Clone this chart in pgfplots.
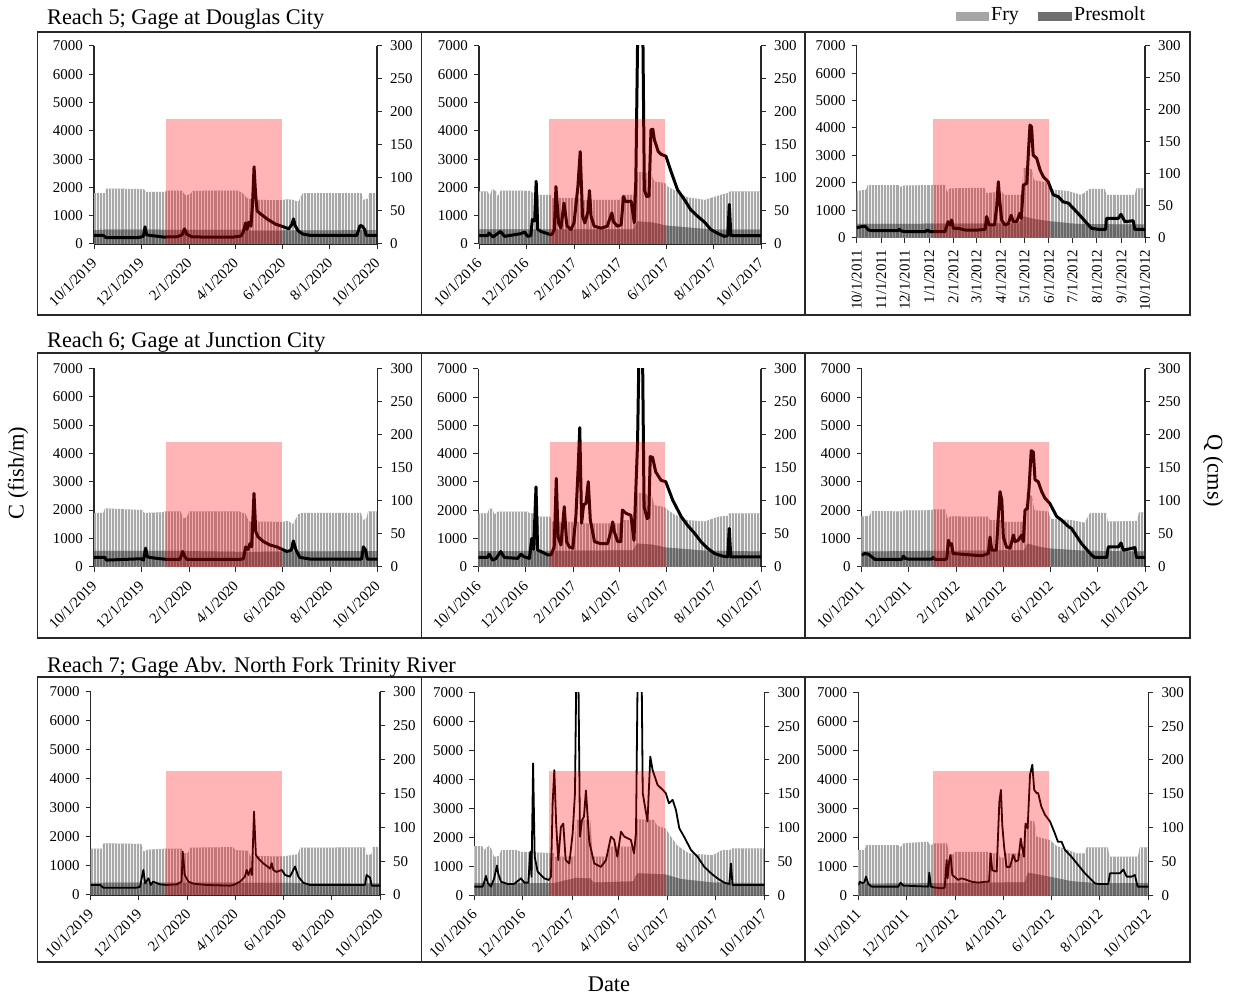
\documentclass[border=0pt]{standalone}
\usepackage{fontspec}
\setmainfont{Liberation Serif}
\usepackage{pgfplots}
\usepackage{pgfplotstable}
\pgfplotsset{compat=1.18}
\usetikzlibrary{patterns.meta}

\definecolor{fryc}{RGB}{168,168,168}
\definecolor{frygap}{RGB}{242,242,242}
\definecolor{presc}{RGB}{104,104,104}
\definecolor{presgap}{RGB}{150,150,150}
\definecolor{fryleg}{RGB}{166,166,166}
\definecolor{presleg}{RGB}{110,110,110}
\definecolor{axc}{RGB}{40,40,40}

\newcommand\tickfont{\fontsize{15}{18}\selectfont}

%% ---------- Reach 5, 2019-2020 ----------
\pgfplotstableread{
x y
0 1800
14 1800
16 1960
50 1950
65 1930
67 1840
92 1840
94 1890
114 1880
118 1720
124 1750
128 1880
186 1890
192 1800
198 1620
206 1560
242 1550
250 1580
258 1560
264 1480
270 1800
346 1800
348 1560
354 1600
356 1800
366 1800
}\PAfry
\pgfplotstableread{
x y
0 490
20 510
120 500
190 500
205 470
260 480
366 490
}\PApres
\pgfplotstableread{
x y
0 13
12 13
16 9.5
56 9.5
62 11
64 12
66 26
68 14
72 13
80 12
90 10.5
108 11
114 14
117 23
120 15
126 11
140 10.5
180 10.5
190 12
193 18
196 32
198 22
200 33
203 27
205 60
207 117
209 75
211 50
215 46
225 37
235 30
245 26
252 23
256 30
258 38
260 28
264 20
270 15
280 13
340 13
344 28
347 27
350 22
352 13
366 13
}\PAq

%% ---------- Reach 5, 2016-2017 ----------
\pgfplotstableread{
x y
0 1860
11 1860
14 1700
17 1960
22 1860
24 1680
28 1890
66 1880
70 1800
74 1740
92 1740
95 1620
128 1620
136 1560
182 1560
186 1740
200 1740
204 2550
222 2500
227 2210
241 2150
244 2030
253 1900
270 1650
292 1560
313 1740
322 1800
325 1860
365 1860
}\PBfry
\pgfplotstableread{
x y
0 520
200 520
205 800
225 760
242 650
280 560
300 510
365 510
}\PBpres
\pgfplotstableread{
x y
0 12.6
11 12.6
13 16.6
18 10.6
22 14
28 19
33 11.6
54 15.6
59 18
63 11.6
67 12.6
69 37
72 35
74 95
76 22
80 19
89 15.6
93 14
95 15.6
97.5 22
99.6 87
103 32
106 24
110 62
114 27
119 22
123 32
128 87
131 140
134 42
137 32
141 49
143 81
145 42
149 27
158 24
166 27
172 47
174 34
179 27
184 29
187 72
190 64
197 65
201 32
203 97
205.5 330
212 330
214 82
217 72
220 72
222.6 173
225 174
227 158
232 140
235.5 136
242 133
248.5 110
257 82
266 67
274 52
283 42
292 33
300 22
309 16
317.5 11.6
322 12.6
324 60
326 12.6
365 12.6
}\PBq

%% ---------- Reach 5, 2011-2012 ----------
\pgfplotstableread{
x y
0 1700
12 1750
14 1920
53 1920
55 1830
58 1900
112 1930
115 1650
118 1800
162 1820
165 1620
172 1650
185 1650
187 1560
209 1560
212 2550
222 2500
225 2100
243 2000
246 1760
268 1700
285 1560
296 1780
315 1780
317 1560
353 1560
355 1800
366 1800
}\PCfry
\pgfplotstableread{
x y
0 500
205 520
212 780
225 680
245 600
280 500
366 480
}\PCpres
\pgfplotstableread{
x y
0 15.6
6 17.2
10.6 18
15 12
19 11
53 11
54 13
57 10.4
61 9.4
87 9.4
90 12
93 9.4
112 9.4
114 17
116 25
118.5 20
120.6 27.6
122.7 14.6
129 14.6
137.5 12
154 12
163 13
165 33
168 20
175 20
177.7 48
179.8 87.5
181.5 59
184 27.6
188 20
192.5 22
196 35
199 25
203 25
207 38
209 30
211.5 82
216 85
218 134
220 176
222 173
224 129
228.5 124
232.7 106
237 95
243 87.5
249.6 67
256 64
262 56
268.7 54
281 38
298 14.6
307 13
316 13
317 30
332 30
335.5 36.5
340.6 25
351 26.5
353 13
366 13
}\PCq

%% ---------- Reach 6, 2019-2020 ----------
\pgfplotstableread{
x y
0 1900
12 1900
14 2060
62 2000
65 1900
88 1920
92 1950
112 1950
115 1700
120 1750
123 1950
188 1950
196 1850
200 1600
244 1580
250 1620
257 1500
264 1850
268 1900
345 1900
347 1640
352 1700
354 1950
366 1950
}\PDfry
\pgfplotstableread{
x y
0 560
100 560
200 520
250 540
366 550
}\PDpres
\pgfplotstableread{
x y
0 14
14 14
16 10
61 12
64 10
66.7 28
69 15
72 14
81 12.6
94 11
111 11
114.5 23
117.5 15
120 11
188 11
193 12
196 30
199 26
201.5 35
203.7 30
206.7 111
209 53
212 45
219 38
227 33
236 30
243.7 26
249 23
255 25
257.5 39
261 25
266 14
279 11.6
345.8 11.6
348 30
351 25
353 11.6
366 11.6
}\PDq

%% ---------- Reach 6, 2016-2017 ----------
\pgfplotstableread{
x y
0 1890
12 1890
14 2060
18 2050
21 1850
25 1950
64 1950
66 1890
72 1890
75 1770
93 1770
95 1590
130 1590
137 1530
184 1530
186 1650
200 1650
205 2620
224 2550
227 2180
241 2100
245 2000
253 1850
270 1650
292 1600
310 1770
322 1800
324 1890
365 1890
}\PEfry
\pgfplotstableread{
x y
0 550
95 560
200 580
205 820
225 780
242 680
290 570
365 540
}\PEpres
\pgfplotstableread{
x y
0 14
12 14
14 19
18.5 10
23 12.6
29 23
33.6 14
50.8 12.6
55 19
59.4 15
66 12.6
69 43
71.4 26
74.5 121
76.6 25
81 23
89.5 18
94 18
98 30
100.7 134
103 45
106.7 33
111 91
114 38
117.5 30
122 28
126 76
129 152
131 211
133.4 66
136 94
139 96
142 129
144.6 71
150 38
158 35
167 35
171 53
173.5 68
175.6 53
180 38
184 38
186 86
190.7 81
197 78
201 40
205.6 187
207.5 330
212 330
214 91
218 73
220 75
222 167
225 166
229 144
236 131
242 129
251 101
262 76
270 63
279 51
287.5 38
296 28
305 20
315.5 16
322 15
324 58
326 15
365 15
}\PEq

%% ---------- Reach 6, 2011-2012 ----------
\pgfplotstableread{
x y
0 1780
10 1800
13 1970
52 1960
54 1990
90 2000
93 2030
108 2030
111 1700
114 1780
163 1770
166 1650
181 1650
183 1590
210 1590
213 2600
220 2500
223 2000
241 1950
244 1700
271 1650
288 1560
295 1900
316 1910
318 1600
356 1620
358 1920
366 1920
}\PFfry
\pgfplotstableread{
x y
0 540
100 560
210 580
214 820
230 700
244 640
290 560
366 540
}\PFpres
\pgfplotstableread{
x y
0 17.7
4.3 20
8.6 19
13 15
17 11
51.7 11
53.8 16
56 12.6
60 11.6
90.4 11.6
92.6 14
94.7 11
108 11
110 12.6
112 40
114 33
116 35
118 20
129 19
142 17.7
155 16.7
163.6 20
165.8 45
168 25
174 25
176.5 76
178.7 114
181 101
183 45
187 30
191.6 28
196 48
198 38
202 40
206.7 48
208.9 38
211 86
214 88
216 116
219 176
221.7 174
223.9 132
228 129
232.5 114
236.8 104
243 96
252 76
258 71
267 61
271 58
284 35
297 17.7
301 14
316.5 14
318.6 30
331.6 30
335 36
338 25
353 29
355 14
366 14
}\PFq

%% ---------- Reach 7, 2019-2020 ----------
\pgfplotstableread{
x y
0 1600
14 1600
16 1780
64 1760
67 1490
72 1560
96 1600
115 1600
117 1430
123 1450
126 1630
180 1650
183 1550
199 1520
202 1340
244 1330
256 1380
262 1400
265 1630
347 1640
349 1380
355 1400
357 1650
366 1650
}\PGfry
\pgfplotstableread{
x y
0 420
100 430
200 420
366 400
}\PGpres
\pgfplotstableread{
x y
0 14.8
11.8 14.8
16 10.8
58 10.8
62.4 12
66.6 37
69 17
73 24.6
76 14.8
79 19.7
87.7 15.7
96 14.8
108.8 15.7
115 19.7
116.4 64
119 29.5
123.6 19.7
130 16.7
146.8 14.8
176 13.8
180.5 14.8
189 19.7
195 27
197.4 37
199.5 29.5
202.4 39
204 29.5
206.6 123
209 59
212 54
218 47
227 39
229 47
231 37
235 34
241.6 37
246 29.5
252 27
258.5 42
262.7 27
269 18
277.5 14.8
347 14.8
349 29.5
353.4 25.6
355.5 13.8
366 13.8
}\PGq

%% ---------- Reach 7, 2016-2017 ----------
\pgfplotstableread{
x y
0 1700
10 1700
12 1560
19 1720
22 1560
25 1330
31 1350
34 1560
54 1560
58 1500
100 1450
102 1330
126 1330
128 2600
146 2600
149 1330
168 1330
170 1680
201 1680
203.5 2620
226 2600
230 2400
241 2300
248 2000
256 1700
270 1450
300 1380
312 1560
322 1560
325 1620
365 1620
}\PHfry
\pgfplotstableread{
x y
0 420
100 420
128 600
146 580
150 440
200 480
205 760
240 720
260 560
300 440
365 420
}\PHpres
\pgfplotstableread{
x y
0 12.8
10.5 12.8
12.6 20
14.7 28.6
16.8 18.7
21 12.8
25 25
28.5 44
30 32.5
33.6 20
42 16.7
50 16.7
58.7 25
63 18.7
68 18.7
70.5 64.5
72 27.6
74 195
76 57
79.7 35
88 25
94 22.7
96.5 27.6
98.6 136
100.7 185
103 106
105.7 52
109 101
112 106
115 52
119.6 47
123.8 91.6
126.7 151
128.4 330
131 330
133 86.7
135.5 111
138 116
140.5 155
141.8 131
144.7 79
151 47
159.4 42
165.7 52
172 86.7
176 82
180 57
184.6 94
188.8 86.7
197 82
201 62
203.5 91.6
205.6 330
210.6 330
212 151
218 109
221.5 205
224.4 185
230.7 163
237 156
241 151
245 136
249.6 141
253.8 126
258 99
264 86.7
272.7 67
281 57
289.5 42
298 32.5
306 25
314.6 18.7
321 16.7
323 47
325 15.3
365 15.3
}\PHq

%% ---------- Reach 7, 2011-2012 ----------
\pgfplotstableread{
x y
0 1560
8 1560
10 1730
50 1730
53 1650
57 1790
88 1850
91 1700
95 1790
112 1790
115 1390
120 1420
122 1500
164 1500
167 1450
177 1450
179 1300
185 1300
187 1450
210 1450
212 2600
222 2550
225 2020
242 1900
250 1700
261 1600
275 1450
286 1450
288 1650
315 1650
317 1330
353 1330
355 1650
366 1650
}\PIfry
\pgfplotstableread{
x y
0 400
100 420
150 430
210 450
214 780
230 700
245 620
270 480
300 420
366 420
}\PIpres
\pgfplotstableread{
x y
0 15.3
2 20
5 18
7.6 19
9.7 27.6
12.6 16.7
16.8 12.8
50.5 12.8
53.4 18.7
56.8 14.3
88.3 12.8
89.6 33.5
91.7 12.8
94.7 11.8
105 10.3
109 11.3
111.5 52
112.7 25
114.8 52
116.5 59.6
118.6 30
126 22.7
130 25
134.6 23.6
143 20
151.5 18.7
160 20
165 20
167 62
169 37
174.6 35
178 138
180 155.7
181.7 104
184 72
187 42
191.4 42
195.6 59.6
198.6 50
202 52
205 84
207 69
209 57
211 106
213.7 99
216.7 178
219.6 193
222 155.7
225 151
227 151
231 131
235.6 119
242 109
248 91.6
252 79
256.6 79
260.8 67
263 64.5
269 57
286 32.5
298.7 17.7
303 16.7
315.5 16.7
317.6 32.5
330 32.5
334.5 38
338.7 27.6
345 27.6
349 30
352.5 12.8
366 12.8
}\PIq

\pgfplotsset{
  common/.style={
    scale only axis, anchor=south west, xmin=0,
    enlargelimits=false, tick align=outside,
    major tick length=5bp,
    axis line style={line width=1.2bp, draw=axc},
    every tick/.style={line width=1bp, draw=axc},
    tick label style={font=\tickfont, text=black},
    /pgf/number format/1000 sep={},
    /pgf/number format/assume math mode=true,
    minor tick num=0,
  },
  leftax/.style={common, ymin=0, ymax=7000, ytick={0,1000,...,7000},
    axis y line*=left, axis x line*=bottom,
    yticklabel style={inner sep=2bp, xshift=-4bp}},
  rightax/.style={common, ymin=0, ymax=300, ytick={0,50,...,300},
    axis y line*=right, axis x line=none,
    yticklabel style={inner sep=2bp, xshift=6bp}},
  rot45/.style={xticklabel style={yshift=-11bp, xshift=1bp, rotate=45, anchor=east, inner sep=1bp}},
  tA/.style={xmax=366, xtick={0,61,123,183,244,305,366},
    xticklabels={10/1/2019,12/1/2019,2/1/2020,4/1/2020,6/1/2020,8/1/2020,10/1/2020}, rot45},
  tB/.style={xmax=365, xtick={0,61,123,182,243,304,365},
    xticklabels={10/1/2016,12/1/2016,2/1/2017,4/1/2017,6/1/2017,8/1/2017,10/1/2017}, rot45},
  tC/.style={xmax=366, xtick={0,61,123,183,244,305,366},
    xticklabels={10/1/2011,12/1/2011,2/1/2012,4/1/2012,6/1/2012,8/1/2012,10/1/2012}, rot45},
  tD/.style={xmax=366, xtick={0,31,61,92,123,152,183,213,244,274,305,336,366},
    xticklabels={10/1/2011,11/1/2011,12/1/2011,1/1/2012,2/1/2012,3/1/2012,4/1/2012,5/1/2012,6/1/2012,7/1/2012,8/1/2012,9/1/2012,10/1/2012},
    xticklabel style={yshift=-6bp, rotate=90, anchor=east, inner sep=1bp}},
  pA/.style={at={(94bp,751bp)}, width=283bp, height=198bp},
  pB/.style={at={(479bp,751bp)}, width=282bp, height=198bp},
  pC/.style={at={(856.7bp,757.3bp)}, width=288.3bp, height=192bp},
  pD/.style={at={(94bp,428.3bp)}, width=283.3bp, height=198.3bp},
  pE/.style={at={(478.3bp,428.3bp)}, width=282.7bp, height=197.7bp},
  pF/.style={at={(861.7bp,428.3bp)}, width=283.3bp, height=197.7bp},
  pG/.style={at={(90.7bp,100bp)}, width=289.3bp, height=203.3bp},
  pH/.style={at={(474.3bp,99.7bp)}, width=290bp, height=203bp},
  pI/.style={at={(858.3bp,99.7bp)}, width=290bp, height=203bp},
}

\newcommand{\panel}[7]{%
  \begin{axis}[leftax,#1,#2]
    \addplot[fill=fryc, draw=none] table {#3} \closedcycle;
    \addplot[draw=none, pattern={Lines[angle=90,distance=3.1bp,line width=1bp]}, pattern color=frygap] table {#3} \closedcycle;
    \addplot[fill=presc, draw=none] table {#4} \closedcycle;
    \addplot[draw=none, pattern={Lines[angle=90,distance=3.1bp,line width=1bp]}, pattern color=presgap] table {#4} \closedcycle;
  \end{axis}
  \begin{axis}[rightax,#1,#2]
    \addplot[black, line join=round, #7] table {#5};
    \addplot[fill=red, fill opacity=0.29, draw=none] coordinates {#6} \closedcycle;
  \end{axis}}

\begin{document}
\begin{tikzpicture}
\path[use as bounding box] (0bp,0bp) rectangle (1239bp,995bp);

\panel{pA}{tA}{\PAfry}{\PApres}{\PAq}{(93,189.4) (243,189.4)}{line width=3bp}
\panel{pB}{tB}{\PBfry}{\PBpres}{\PBq}{(90,189) (241,189)}{line width=3bp}
\panel{pC}{tD}{\PCfry}{\PCpres}{\PCq}{(97,184.8) (244,184.8)}{line width=3bp}
\panel{pD}{tA}{\PDfry}{\PDpres}{\PDq}{(93,188) (242.4,188)}{line width=3bp}
\panel{pE}{tB}{\PEfry}{\PEpres}{\PEq}{(92.5,188.6) (241.5,188.6)}{line width=3bp}
\panel{pF}{tC}{\PFfry}{\PFpres}{\PFq}{(92.6,188.6) (242,188.6)}{line width=3bp}
\panel{pG}{tA}{\PGfry}{\PGpres}{\PGq}{(95.3,183.4) (241.6,183.4)}{line width=1.8bp}
\panel{pH}{tB}{\PHfry}{\PHpres}{\PHq}{(93.5,184.2) (240.4,184.2)}{line width=1.8bp}
\panel{pI}{tC}{\PIfry}{\PIpres}{\PIq}{(94.7,184.2) (241,184.2)}{line width=1.8bp}

% panel frames
\begin{scope}[line width=1.5bp, draw=axc]
\draw (37.5bp,680bp) rectangle (1190bp,963bp);
\draw (421.5bp,680bp) -- (421.5bp,963bp);
\draw (805bp,680bp) -- (805bp,963bp);
\draw (37.5bp,357bp) rectangle (1190bp,642bp);
\draw (421.5bp,357bp) -- (421.5bp,642bp);
\draw (805bp,357bp) -- (805bp,642bp);
\draw (37.5bp,33bp) rectangle (1190bp,318bp);
\draw (421.5bp,33bp) -- (421.5bp,318bp);
\draw (805bp,33bp) -- (805bp,318bp);
\end{scope}

% row titles
\node[anchor=base west, inner sep=0pt, font=\fontsize{22.4}{26}\selectfont] at (47bp,970bp) {Reach 5; Gage at Douglas City};
\node[anchor=base west, inner sep=0pt, font=\fontsize{22.4}{26}\selectfont] at (47bp,647bp) {Reach 6; Gage at Junction City};
\node[anchor=base west, inner sep=0pt, font=\fontsize{22.4}{26}\selectfont] at (47bp,322bp) {Reach 7; Gage Abv. North Fork Trinity River};

% legend
\fill[fryleg] (956bp,974bp) rectangle (989bp,983bp);
\node[anchor=base west, inner sep=0pt, font=\fontsize{20}{24}\selectfont] at (991bp,974bp) {Fry};
\fill[presleg] (1038bp,974bp) rectangle (1072bp,983bp);
\node[anchor=base west, inner sep=0pt, font=\fontsize{20}{24}\selectfont] at (1074bp,974bp) {Presmolt};

% global axis labels
\node[rotate=90, inner sep=0pt, font=\fontsize{22.5}{27}\selectfont] at (18bp,522bp) {C (fish/m)};
\node[rotate=-90, inner sep=0pt, font=\fontsize{22.5}{27}\selectfont] at (1213bp,524bp) {Q (cms)};
\node[anchor=base, inner sep=0pt, font=\fontsize{22.5}{27}\selectfont] at (609bp,3.5bp) {Date};
\end{tikzpicture}
\end{document}
